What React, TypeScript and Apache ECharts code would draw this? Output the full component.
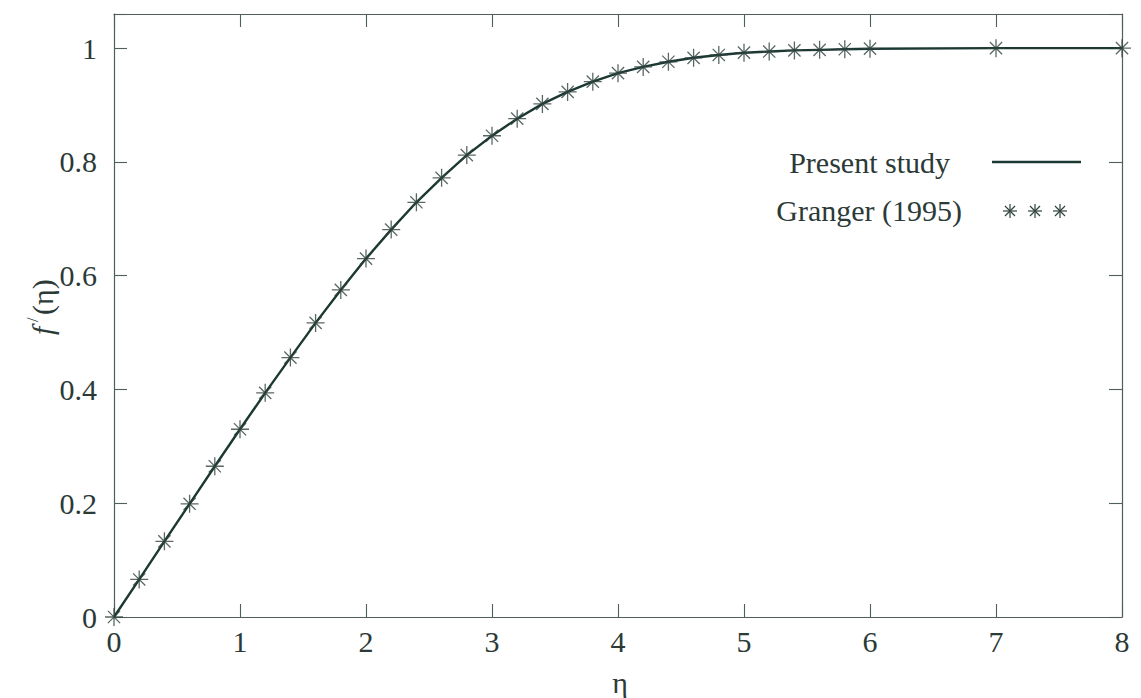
import React, { useEffect, useRef } from "react";
import * as echarts from "echarts";

const etaValues = [
  0, 0.2, 0.4, 0.6, 0.8, 1.0, 1.2, 1.4, 1.6, 1.8, 2.0, 2.2, 2.4, 2.6, 2.8, 3.0,
  3.2, 3.4, 3.6, 3.8, 4.0, 4.2, 4.4, 4.6, 4.8, 5.0, 5.2, 5.4, 5.6, 5.8, 6.0, 7, 8,
];
const grangerValues = [
  0, 0.066, 0.133, 0.199, 0.265, 0.33, 0.394, 0.456, 0.517, 0.575, 0.63,
  0.681, 0.729, 0.772, 0.812, 0.846, 0.876, 0.902, 0.923, 0.941, 0.956, 0.967,
  0.976, 0.983, 0.988, 0.992, 0.994, 0.996, 0.997, 0.998, 0.999, 1.0, 1.0,
];
const presentValues = [
  0, 0.066, 0.133, 0.199, 0.265, 0.33, 0.394, 0.456, 0.517, 0.575, 0.63,
  0.681, 0.729, 0.772, 0.812, 0.846, 0.876, 0.902, 0.923, 0.941, 0.956, 0.967,
  0.976, 0.983, 0.988, 0.992, 0.994, 0.996, 0.997, 0.998, 0.999, 1.0, 1.0,
];
const xTickValues = [0, 1, 2, 3, 4, 5, 6, 7, 8];
const yTickValues = [0, 0.2, 0.4, 0.6, 0.8, 1];
const seriesNames = ["Present study", "Granger (1995)"];

const FONT = "Liberation Serif";
const FS = 30;
const LINE_COLOR = "#1c3832";
const STAR_COLOR = "#2f423d";
const FRAME_COLOR = "#4f5f5c";
const TEXT_COLOR = "#2b3a37";
const STAR_PATH =
  "path://M5,0L5,10M0,5L10,5M1.6,1.6L8.4,8.4M1.6,8.4L8.4,1.6";

function starGraphic(cx: number, cy: number, r: number) {
  const d = r * 0.72;
  const seg = (x1: number, y1: number, x2: number, y2: number) => ({
    type: "line",
    shape: { x1: cx + x1, y1: cy + y1, x2: cx + x2, y2: cy + y2 },
    style: { stroke: STAR_COLOR, lineWidth: 1.2 },
  });
  return {
    type: "group",
    children: [
      seg(0, -r, 0, r),
      seg(-r, 0, r, 0),
      seg(-d, -d, d, d),
      seg(-d, d, d, -d),
    ],
  };
}

export default function App() {
  const ref = useRef<HTMLDivElement>(null);

  useEffect(() => {
    if (!ref.current) return;
    const chart = echarts.init(ref.current, undefined, { renderer: "svg" });
    const linePts = etaValues.map((x, i) => [x, presentValues[i]]);
    const starPts = etaValues.map((x, i) => [x, grangerValues[i]]);

    const axisLine = { show: true, onZero: false, lineStyle: { color: FRAME_COLOR, width: 1.2 } };
    const axisTick = { show: true, inside: true, length: 13, lineStyle: { color: FRAME_COLOR, width: 1.1 } };
    const labelStyle = { fontFamily: FONT, fontSize: FS, color: TEXT_COLOR };

    chart.setOption({
      animation: false,
      backgroundColor: "#ffffff",
      grid: { left: 114, right: 19, top: 14, bottom: 81, containLabel: false },
      xAxis: [
        {
          type: "value",
          min: 0,
          max: 8,
          interval: 1,
          position: "bottom",
          axisLine,
          axisTick,
          splitLine: { show: false },
          axisLabel: {
            ...labelStyle,
            margin: 9,
            formatter: (v: number) => (xTickValues.includes(v) ? String(v) : ""),
          },
        },
        {
          type: "value",
          min: 0,
          max: 8,
          interval: 1,
          position: "top",
          axisLine,
          axisTick,
          splitLine: { show: false },
          axisLabel: { show: false },
        },
      ],
      yAxis: [
        {
          type: "value",
          min: 0,
          max: 1.06,
          interval: 0.2,
          position: "left",
          axisLine,
          axisTick,
          splitLine: { show: false },
          axisLabel: {
            ...labelStyle,
            margin: 17,
            formatter: (v: number) => {
              const hit = yTickValues.find((t) => Math.abs(t - v) < 1e-6);
              return hit === undefined ? "" : String(hit);
            },
          },
        },
        {
          type: "value",
          min: 0,
          max: 1.06,
          interval: 0.2,
          position: "right",
          axisLine,
          axisTick,
          splitLine: { show: false },
          axisLabel: { show: false },
        },
      ],
      series: [
        {
          name: seriesNames[0],
          type: "line",
          xAxisIndex: 0,
          yAxisIndex: 0,
          data: linePts,
          showSymbol: false,
          smooth: false,
          lineStyle: { color: LINE_COLOR, width: 2.4 },
          z: 2,
        },
        {
          name: seriesNames[1],
          type: "scatter",
          xAxisIndex: 0,
          yAxisIndex: 0,
          data: starPts,
          symbol: STAR_PATH,
          symbolSize: 18,
          itemStyle: { color: "none", borderColor: STAR_COLOR, borderWidth: 1.3 },
          z: 3,
        },
      ],
      graphic: [
        {
          type: "text",
          x: 950,
          y: 162,
          style: {
            text: seriesNames[0],
            font: `${FS}px "${FONT}"`,
            fill: TEXT_COLOR,
            align: "right",
            verticalAlign: "middle",
          },
        },
        {
          type: "line",
          shape: { x1: 992, y1: 162, x2: 1081, y2: 162 },
          style: { stroke: LINE_COLOR, lineWidth: 2.4 },
        },
        {
          type: "text",
          x: 962,
          y: 210,
          style: {
            text: seriesNames[1],
            font: `${FS}px "${FONT}"`,
            fill: TEXT_COLOR,
            align: "right",
            verticalAlign: "middle",
          },
        },
        starGraphic(1010, 211, 7),
        starGraphic(1035, 211, 7),
        starGraphic(1060, 211, 7),
        {
          type: "text",
          x: 620,
          y: 682,
          style: {
            text: "η",
            font: `${FS}px "${FONT}"`,
            fill: TEXT_COLOR,
            align: "center",
            verticalAlign: "middle",
          },
        },
        {
          type: "group",
          x: 42,
          y: 305,
          rotation: Math.PI / 2,
          children: [
            {
              type: "text",
              x: -30,
              y: 0,
              style: {
                text: "f",
                font: `italic ${FS}px "${FONT}"`,
                fill: TEXT_COLOR,
                align: "left",
                verticalAlign: "middle",
              },
            },
            {
              type: "text",
              x: -17,
              y: -10,
              style: {
                text: "/",
                font: `16px "${FONT}"`,
                fill: TEXT_COLOR,
                align: "left",
                verticalAlign: "middle",
              },
            },
            {
              type: "text",
              x: -10,
              y: 0,
              style: {
                text: "(η)",
                font: `${FS}px "${FONT}"`,
                fill: TEXT_COLOR,
                align: "left",
                verticalAlign: "middle",
              },
            },
          ],
        },
      ],
    });
    return () => chart.dispose();
  }, []);

  return (
    <div
      ref={ref}
      style={{ position: "fixed", left: 0, top: 0, width: 1141, height: 698, background: "#fff" }}
    />
  );
}
